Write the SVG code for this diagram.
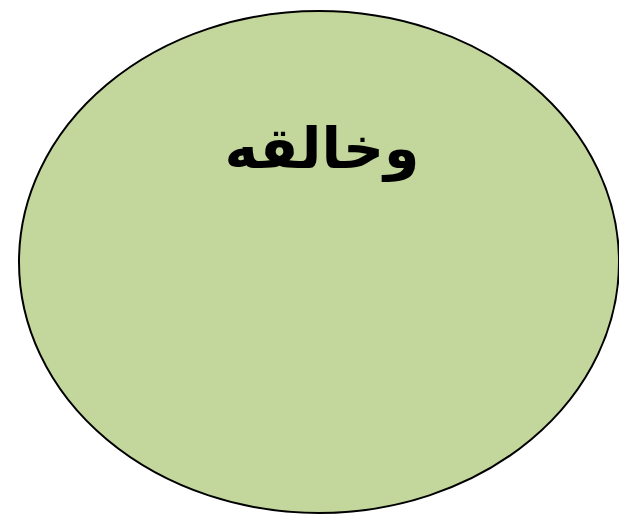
<svg xmlns="http://www.w3.org/2000/svg" width="619" height="522" viewBox="0 0 619 522">
<style>
.node{fill:#c3d69b;stroke:#000;stroke-width:2}
.lbl{font-family:"DejaVu Sans",sans-serif;font-weight:bold;font-size:57px;fill:#000;text-anchor:middle}
</style>
<rect width="619" height="522" fill="#fff"/>
<g id="node1">
<ellipse class="node" cx="319" cy="262" rx="300" ry="251"/>
<text class="lbl" x="322" y="168" direction="rtl">وخالقه</text>
</g>
<g id="connectors"/>
</svg>
